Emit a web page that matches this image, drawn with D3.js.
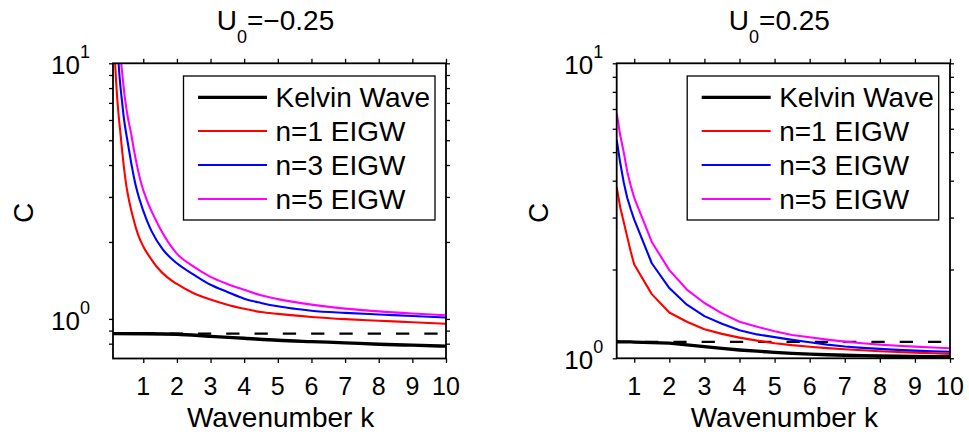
<!DOCTYPE html>
<html><head><meta charset="utf-8">
<script src="https://cdn.jsdelivr.net/npm/d3@7"></script>
<style>
body{margin:0;background:#fff}
svg{display:block}
text{font-family:"Liberation Sans",Arial,Helvetica,sans-serif;fill:#000}
</style>
</head><body>
<svg id="chart" width="969" height="436"></svg>
<script>
// ---------- data ----------
const xTicks = [1,2,3,4,5,6,7,8,9,10];
const yMinorLeft = [0.8,0.9,2,3,4,5,6,7,8,9];
const yMinorRight = [2,3,4,5,6,7,8,9];
const yMajor = [1,10];
const yMajorExp = ["0","1"];
const legendLabels = ["Kelvin Wave","n=1 EIGW","n=3 EIGW","n=5 EIGW"];
const seriesColors = ["#000000","#ff0000","#0000ff","#ff00ff"];
const titles = ["=\u22120.25","=0.25"];

// Left panel: U0 = -0.25
const kL_kelvin = [0.1,1,2,3,4,5,6,7,8,9,10];
const cL_kelvin = [0.876,0.875,0.871,0.855,0.840,0.825,0.815,0.806,0.796,0.789,0.782];
const cL_dash = 0.876;
const kL_n1 = [0.145,0.163,0.19,0.227,0.27,0.326,0.375,0.425,0.5,0.584,0.7,0.832,1,1.2,1.4,1.7,2,2.5,3,3.5,4,4.5,5,6,7,8,9,10];
const cL_n1 = [11.3,10,8.6,7.25,6.2,5.25,4.5,3.92,3.3,2.88,2.48,2.16,1.92,1.74,1.6,1.46,1.37,1.26,1.19,1.135,1.095,1.064,1.046,1.018,0.998,0.984,0.97,0.957];
const kL_n3 = [0.245,0.265,0.3,0.363,0.43,0.51,0.58,0.66,0.77,0.89,1.1,1.25,1.58,2,2.5,3,3.5,4,4.5,5,5.5,6,7,8,9,10];
const cL_n3 = [10.9,10,8.7,7.2,6.0,5.15,4.55,3.95,3.35,2.93,2.44,2.2,1.87,1.65,1.49,1.36,1.275,1.2,1.155,1.12,1.096,1.077,1.056,1.041,1.027,1.012];
const kL_n5 = [0.325,0.345,0.38,0.454,0.54,0.64,0.72,0.82,0.95,1.1,1.35,1.5,2,2.5,3,3.5,4,4.5,5,6,7,8,9,10];
const cL_n5 = [10.8,10,9.0,7.3,6.15,5.3,4.6,3.95,3.35,2.93,2.47,2.26,1.8,1.6,1.46,1.37,1.3,1.237,1.195,1.137,1.097,1.07,1.05,1.034];

// Right panel: U0 = 0.25
const kR = [0.5,0.6,0.7,0.8,0.9,1,1.5,2,2.5,3,3.5,4,4.5,5,5.5,6,6.5,7,7.5,8,8.5,9,9.5,10];
const cR_kelvin = [1.138,1.137,1.137,1.136,1.136,1.135,1.13,1.125,1.11,1.095,1.08,1.067,1.057,1.048,1.04,1.033,1.028,1.024,1.021,1.018,1.016,1.014,1.013,1.012];
const cR_dash = 1.136;
const cR_n1 = [3.8,3.25,2.9,2.58,2.3,2.08,1.65,1.43,1.33,1.255,1.21,1.175,1.148,1.125,1.108,1.095,1.083,1.073,1.065,1.057,1.05,1.045,1.04,1.035];
const cR_n3 = [5.5,4.6,3.95,3.5,3.2,2.95,2.10,1.73,1.52,1.39,1.31,1.245,1.205,1.18,1.155,1.133,1.113,1.097,1.085,1.076,1.068,1.062,1.057,1.053];
const cR_n5 = [6.78,5.7,5.0,4.3,3.85,3.5,2.48,1.99,1.71,1.54,1.42,1.33,1.28,1.235,1.2,1.178,1.157,1.139,1.125,1.113,1.103,1.095,1.088,1.081];

// ---------- layout ----------
const svg = d3.select("#chart");
const FS = 26;

const panelDefs = [
  {x0:113, x1:446, y0:63.3, y1:358.5, kDomain:[0.1,10], cDomain:[0.7,10], minor:yMinorLeft,
   title:titles[0], dash:cL_dash, yLabOff:23, cOff:80, curve:d3.curveMonotoneX,
   series:[[kL_kelvin,cL_kelvin],[kL_n1,cL_n1],[kL_n3,cL_n3],[kL_n5,cL_n5]]},
  {x0:616.7, x1:950, y0:63.3, y1:358.3, kDomain:[0.5,10], cDomain:[1,10], minor:yMinorRight,
   title:titles[1], dash:cR_dash, yLabOff:13.4, cOff:68.5, curve:d3.curveLinear,
   series:[[kR,cR_kelvin],[kR,cR_n1],[kR,cR_n3],[kR,cR_n5]]}
];

panelDefs.forEach((p,i)=>{
  const x = d3.scaleLinear().domain(p.kDomain).range([p.x0,p.x1]);
  const y = d3.scaleLog().domain(p.cDomain).range([p.y1,p.y0]);
  const g = svg.append("g");
  const clipId = "clip"+i;
  svg.append("clipPath").attr("id",clipId).append("rect")
    .attr("x",p.x0).attr("y",p.y0).attr("width",p.x1-p.x0).attr("height",p.y1-p.y0);

  // axes ticks (outward)
  const tickStyle = sel=>{sel.select(".domain").remove();
    sel.selectAll(".tick line").attr("stroke","#000").attr("stroke-width",1.3);
    sel.selectAll(".tick text").remove();};
  g.append("g").attr("transform",`translate(0,${p.y1})`)
    .call(d3.axisBottom(x).tickValues(xTicks).tickSize(4.5).tickFormat("")).call(tickStyle);
  g.append("g").attr("transform",`translate(0,${p.y0})`)
    .call(d3.axisTop(x).tickValues(xTicks).tickSize(4.5).tickFormat("")).call(tickStyle);
  const yt = yMajor.concat(p.minor);
  g.append("g").attr("transform",`translate(${p.x0},0)`)
    .call(d3.axisLeft(y).tickValues(yt).tickSize(4).tickFormat("")).call(tickStyle);
  g.append("g").attr("transform",`translate(${p.x1},0)`)
    .call(d3.axisRight(y).tickValues(yt).tickSize(4).tickFormat("")).call(tickStyle);

  // curves
  const line = d3.line().x(d=>x(d[0])).y(d=>y(d[1])).curve(p.curve);
  const cg = g.append("g").attr("clip-path",`url(#${clipId})`);
  cg.append("path").attr("d",d3.line().x(d=>x(d[0])).y(d=>y(d[1]))([[p.kDomain[0],p.dash],[10,p.dash]]))
    .attr("fill","none").attr("stroke","#000").attr("stroke-width",2.2).attr("stroke-dasharray","13.3,15");
  [1,2,3,0].forEach(s=>{
    const [ks,cs] = p.series[s];
    cg.append("path").attr("d",line(ks.map((k,j)=>[k,cs[j]])))
      .attr("fill","none").attr("stroke",seriesColors[s])
      .attr("stroke-width",s===0?3.3:2.1).attr("stroke-linejoin","round");
  });

  // frame
  g.append("rect").attr("x",p.x0).attr("y",p.y0).attr("width",p.x1-p.x0).attr("height",p.y1-p.y0)
    .attr("fill","none").attr("stroke","#000").attr("stroke-width",1.8);

  // x tick labels
  g.selectAll(".xl").data(xTicks).enter().append("text")
    .attr("x",d=>x(d)).attr("y",395).attr("text-anchor","middle")
    .style("font-size","25px").text(d=>d);
  // y tick labels
  yMajor.forEach((v,j)=>{
    const t = g.append("text").attr("x",p.x0-p.yLabOff).attr("y",y(v)+11).attr("text-anchor","end")
      .style("font-size",FS+"px");
    t.append("tspan").text("10");
    t.append("tspan").attr("dy",-16).style("font-size","18px").text(yMajorExp[j]);
  });
  // axis labels
  g.append("text").attr("x",(p.x0+p.x1)/2+1).attr("y",427).attr("text-anchor","middle")
    .style("font-size","28px").text("Wavenumber k");
  g.append("text").attr("transform",`translate(${p.x0-p.cOff},${(p.y0+p.y1)/2+2}) rotate(-90)`)
    .attr("text-anchor","middle").style("font-size","28px").text("C");
  // title
  const tt = g.append("text").attr("x",(p.x0+p.x1)/2-4).attr("y",30).attr("text-anchor","middle")
    .style("font-size","28px");
  tt.append("tspan").text("U");
  tt.append("tspan").attr("dy",13).style("font-size","18px").text("0");
  tt.append("tspan").attr("dy",-13).text(p.title);

  // legend
  const bx = p.x0+70.5, by = 76, bw = 251.5, bh = 144;
  const lg = g.append("g");
  lg.append("rect").attr("x",bx).attr("y",by).attr("width",bw).attr("height",bh)
    .attr("fill","#fff").attr("stroke","#000").attr("stroke-width",1.3);
  const rowY = [97.3,131,165,199];
  legendLabels.forEach((lab,j)=>{
    lg.append("line").attr("x1",bx+14.5).attr("x2",bx+83.5).attr("y1",rowY[j]).attr("y2",rowY[j])
      .attr("stroke",seriesColors[j]).attr("stroke-width",j===0?3.3:2.1);
    lg.append("text").attr("x",bx+92).attr("y",rowY[j]+9.8).style("font-size","28px").text(lab);
  });
});
</script>
</body></html>
